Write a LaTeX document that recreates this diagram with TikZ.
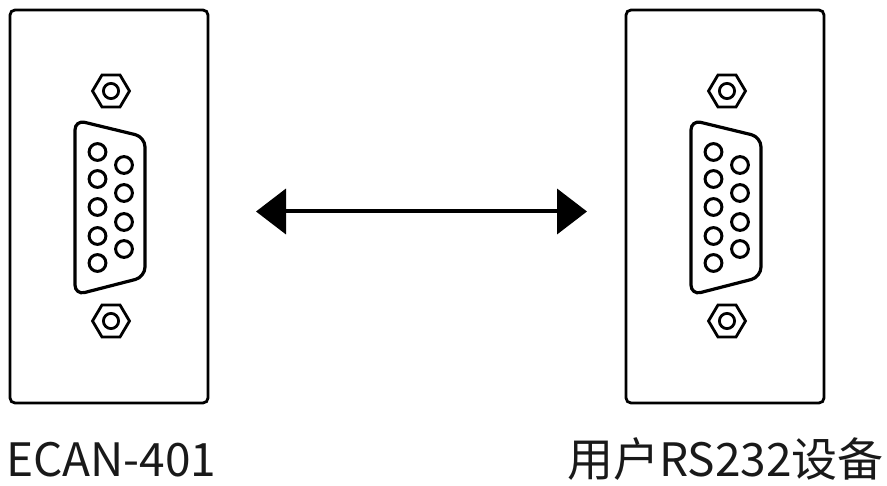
\documentclass[tikz,border=0pt]{standalone}
\usepackage{fontspec}
\setmainfont{Noto Sans CJK SC}
\usetikzlibrary{arrows.meta}
\tikzset{
  panelbox/.style={draw=black,line width=2.8pt,rounded corners=5pt},
  shell/.style={draw=black,line width=3.2pt,rounded corners=10pt},
  pin/.style={draw=black,line width=3pt},
  nut/.style={draw=black,line width=2.8pt},
  caption/.style={inner sep=0pt,font=\fontsize{46pt}{48pt}\selectfont,text=black!90},
  link/.style={line width=4pt,{Triangle[length=30pt,width=45pt]}-{Triangle[length=30pt,width=45pt]}}
}
\newcommand{\subdconn}[1]{%
  \begin{scope}[shift={(#1,0)}]
    \draw[panelbox] (10,10) rectangle (208,403);
    \draw[shell] (75,120) -- (145,137) -- (145,277) -- (75,295) -- cycle;
    \foreach \py in {152,179,207,236,263} \draw[pin] (97.5,\py) circle (8.4);
    \foreach \py in {165,193,222,249} \draw[pin] (124,\py) circle (8.4);
    \foreach \cy in {91,321}{
      \draw[nut] (92.5,\cy) -- (102,\cy-16) -- (120,\cy-16) -- (129.5,\cy) -- (120,\cy+16) -- (102,\cy+16) -- cycle;
      \draw[nut] (111,\cy) circle (7.6);
    }
  \end{scope}}
\begin{document}
\begin{tikzpicture}[x=1pt,y=-1pt]
  \useasboundingbox (0,0) rectangle (887,486);
  \subdconn{0}
  \subdconn{616}
  \coordinate (la) at (256,211.5);
  \coordinate (ra) at (587,211.5);
  \draw[link] (la) -- (ra);
  \node[caption,anchor=base west] (ecan) at (6,476) {ECAN-401};
  \node[caption,anchor=base west] (user) at (567,476) {用户RS232设备};
\end{tikzpicture}
\end{document}
